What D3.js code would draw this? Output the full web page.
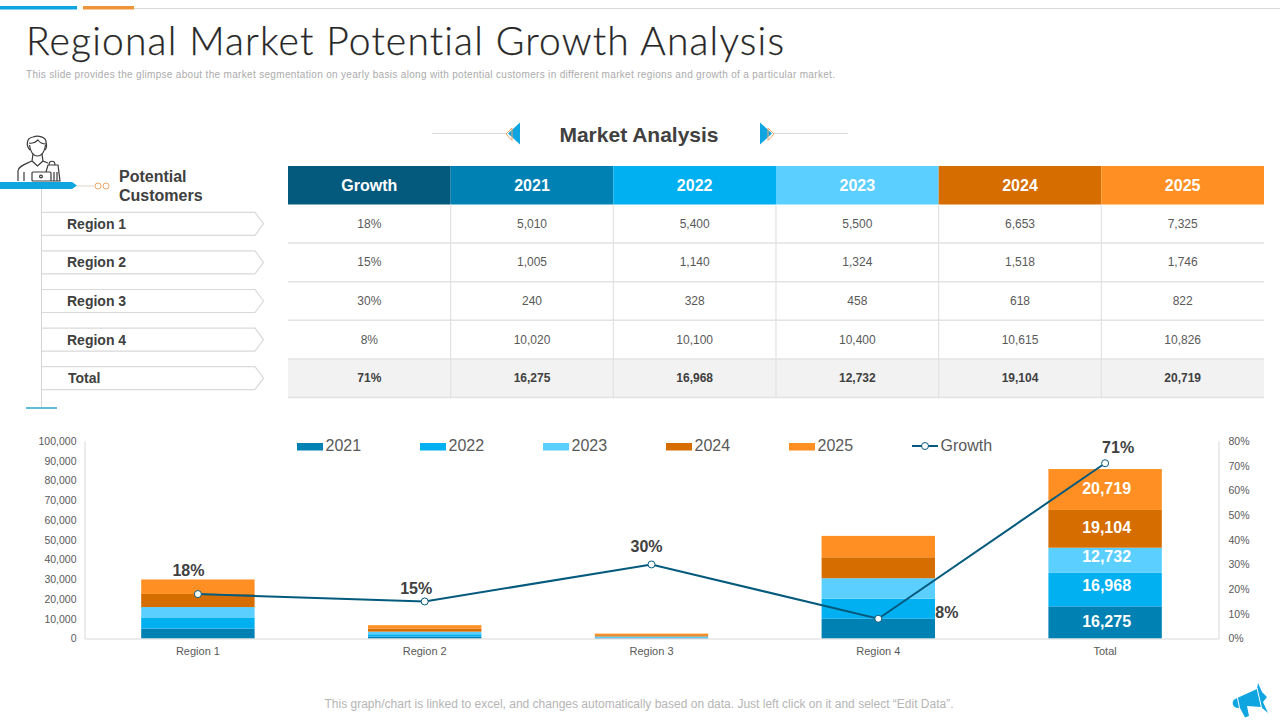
<!DOCTYPE html>
<html lang="en">
<head>
    <meta charset="UTF-8">
    <title>Regional Market Potential Growth Analysis</title>
    <script src="https://d3js.org/d3.v7.min.js"></script>
    <style>
      html, body { margin: 0; padding: 0; background: #fff; }
      svg { display: block; font-family: "Liberation Sans", Arial, sans-serif; }
      .axis text { font-size: 10.5px; fill: #595959; font-family: "Liberation Sans", Arial, sans-serif; }
      .axis path { stroke: #d9d9d9; }
    </style>
</head>
<body>
    <script>
        // chart values
        const regions = ["Region 1", "Region 2", "Region 3", "Region 4", "Total"];
        const years = ["2021", "2022", "2023", "2024", "2025"];
        const values2021 = [5010, 1005, 240, 10020, 16275];
        const values2022 = [5400, 1140, 328, 10100, 16968];
        const values2023 = [5500, 1324, 458, 10400, 12732];
        const values2024 = [6653, 1518, 618, 10615, 19104];
        const values2025 = [7325, 1746, 822, 10826, 20719];
        const growth = [18, 15, 30, 8, 71];
        const leftTicks = [0, 10000, 20000, 30000, 40000, 50000, 60000, 70000, 80000, 90000, 100000];
        const rightTicks = [0, 10, 20, 30, 40, 50, 60, 70, 80];
        const yearColors = ["#0081b4", "#00b0f0", "#5bcfff", "#d66d00", "#ff8f22"];
        const growthColor = "#045a7d";
        const headerColors = [growthColor].concat(yearColors);

        const yearSeries = [values2021, values2022, values2023, values2024, values2025];
        const fmt = d3.format(",");
        const textColor = "#404040";

        const svg = d3.select("body").append("svg")
            .attr("width", 1280)
            .attr("height", 720);

        // top rules
        svg.append("rect").attr("x", 0).attr("y", 6).attr("width", 77).attr("height", 3.5).attr("fill", "#0ea5e0");
        svg.append("rect").attr("x", 83).attr("y", 6).attr("width", 51).attr("height", 3.5).attr("fill", "#f0943a");
        svg.append("line").attr("x1", 134).attr("x2", 1280).attr("y1", 8.5).attr("y2", 8.5).attr("stroke", "#d9d9d9");

        // heading
        svg.append("text").attr("x", 26).attr("y", 55)
            .attr("font-family", "Lato").attr("font-weight", 300)
            .attr("font-size", 39).attr("fill", "#262626")
            .attr("stroke", "#262626").attr("stroke-width", 0.25)
            .style("font-variant-ligatures", "none")
            .attr("textLength", 758).attr("lengthAdjust", "spacing")
            .text("Regional Market Potential Growth Analysis");
        svg.append("text").attr("x", 26).attr("y", 77.5)
            .attr("font-size", 10).attr("fill", "#ababab")
            .attr("textLength", 809).attr("lengthAdjust", "spacing")
            .text("This slide provides the glimpse about the market segmentation on yearly basis along with potential customers in different market regions and growth of a particular market.");

        // Market Analysis title and its arrows
        svg.append("text").attr("x", 639).attr("y", 142)
            .attr("text-anchor", "middle").attr("font-size", 21).attr("font-weight", "bold")
            .attr("fill", textColor).text("Market Analysis");
        [-1, 1].forEach(function(dir) {
            const g = svg.append("g").attr("transform", `translate(640,0) scale(${dir},1)`);
            g.append("line").attr("x1", 134).attr("x2", 208).attr("y1", 133.5).attr("y2", 133.5).attr("stroke", "#d9d9d9");
            g.append("path").attr("d", "M120,122.5 L132,133.5 L120,144.5 Z").attr("fill", "#0ea5e0");
            g.append("path").attr("d", "M128,128 L134,134 L128,140.5 Z").attr("fill", "none").attr("stroke", "#eda56a");
        });

        // table
        const colNames = ["Growth"].concat(years);
        const tableX = d3.scaleBand().domain(d3.range(6)).range([288, 1264]);
        const tableY = d3.scaleBand().domain(d3.range(5)).range([204.5, 397.5]);

        svg.append("g").selectAll("g")
            .data(colNames)
            .join("g")
            .each(function(d, i) {
                const g = d3.select(this);
                g.append("rect").attr("x", tableX(i)).attr("y", 166)
                    .attr("width", tableX.bandwidth()).attr("height", 38.5)
                    .attr("fill", headerColors[i]);
                g.append("text").attr("x", tableX(i) + tableX.bandwidth() / 2).attr("y", 190.5)
                    .attr("text-anchor", "middle").attr("font-size", 16).attr("font-weight", "bold")
                    .attr("fill", "#fff").text(d);
            });

        svg.append("rect").attr("x", 288).attr("y", tableY(4))
            .attr("width", 976).attr("height", tableY.bandwidth()).attr("fill", "#f2f2f2");

        const rows = regions.map((r, i) => [growth[i] + "%"].concat(yearSeries.map(s => fmt(s[i]))));
        const rowG = svg.append("g").selectAll("g")
            .data(rows)
            .join("g");
        rowG.append("line")
            .attr("x1", 288).attr("x2", 1264)
            .attr("y1", (d, i) => tableY(i) + tableY.bandwidth())
            .attr("y2", (d, i) => tableY(i) + tableY.bandwidth())
            .attr("stroke", "#e2e2e2").attr("stroke-width", 1.5);
        rowG.each(function(row, i) {
            d3.select(this).selectAll("text")
                .data(row)
                .join("text")
                .attr("x", (d, j) => tableX(j) + tableX.bandwidth() / 2)
                .attr("y", tableY(i) + tableY.bandwidth() / 2 + 4)
                .attr("text-anchor", "middle")
                .attr("font-size", 12)
                .attr("font-weight", i === 4 ? "bold" : "normal")
                .attr("fill", i === 4 ? textColor : "#595959")
                .text(d => d);
        });
        svg.append("g").selectAll("line")
            .data(d3.range(1, 6))
            .join("line")
            .attr("x1", d => tableX(d)).attr("x2", d => tableX(d))
            .attr("y1", 204.5).attr("y2", 397.5)
            .attr("stroke", "#e2e2e2").attr("stroke-width", 1.2);

        // left column: region tags
        svg.append("line").attr("x1", 41.5).attr("x2", 41.5).attr("y1", 188).attr("y2", 407).attr("stroke", "#d4d4d4");
        svg.append("line").attr("x1", 77).attr("x2", 94).attr("y1", 186).attr("y2", 186).attr("stroke", "#e0d2c4");
        svg.append("g").selectAll("circle")
            .data([98, 106])
            .join("circle")
            .attr("cx", d => d).attr("cy", 186).attr("r", 3)
            .attr("fill", "#fff").attr("stroke", "#eba868");
        svg.append("text").attr("font-size", 16).attr("font-weight", "bold").attr("fill", textColor)
            .selectAll("tspan")
            .data(["Potential", "Customers"])
            .join("tspan")
            .attr("x", 119).attr("y", (d, i) => 182 + i * 19)
            .text(d => d);

        const tag = svg.append("g").selectAll("g").data(regions).join("g")
            .attr("transform", (d, i) => `translate(0,${tableY(i) + tableY.bandwidth() / 2})`);
        tag.append("path")
            .attr("d", "M41,-11.5 H255 L263.5,0 L255,11.5 H41")
            .attr("fill", "none").attr("stroke", "#d9d9d9").attr("stroke-width", 1.2);
        tag.append("text")
            .attr("x", (d, i) => i === 4 ? 68 : 67).attr("y", 5)
            .attr("font-size", 14).attr("font-weight", "bold").attr("fill", textColor)
            .text(d => d);
        svg.append("line").attr("x1", 26).attr("x2", 57).attr("y1", 408).attr("y2", 408)
            .attr("stroke", "#2ea6c4").attr("stroke-width", 1.5);

        // person icon
        const person = svg.append("g").attr("fill", "none").attr("stroke", "#3a3a3a").attr("stroke-width", 1.2);
        person.append("path").attr("d", "M30,150 C26,146 26,138 33,137 C38,135 46,137 46,142 C47,146 46,149 45,150");
        person.append("path").attr("d", "M29,143 C33,144 36,142 38,140 C40,143 43,144 46,144");
        person.append("path").attr("d", "M29.5,145 C30,151 33,156 37.5,156 C42,156 45,151 45.5,145");
        person.append("path").attr("d", "M18,181 V171 C18,166 26,164 32,161 L33,154 M42,154 L43,161 L48,163");
        person.append("path").attr("d", "M32,161 L37.5,166 L43,161");
        person.append("path").attr("d", "M24,181 V172");
        person.append("rect").attr("x", 32).attr("y", 172).attr("width", 19).attr("height", 9).attr("rx", 1);
        person.append("circle").attr("cx", 41).attr("cy", 176.5).attr("r", 1.4);
        person.append("path").attr("d", "M46,172 L48,165 H58 L60,181 H51 M54,172 V181 M57,172 V181 M49,165 C49,160 55,160 55,165");
        svg.append("path").attr("d", "M0,182 H72 L77,185.5 L72,189 H0 Z").attr("fill", "#0ea5e0");

        // combo chart
        const x = d3.scaleBand().domain(regions).range([84.5, 1218.5]).paddingInner(0.5).paddingOuter(0.25);
        const y = d3.scaleLinear().domain([0, 100000]).range([638.5, 441]);
        const yRight = d3.scaleLinear().domain([0, 80]).range([638.5, 441]);

        const stackData = regions.map((r, i) => {
            const row = { region: r };
            years.forEach((yr, k) => { row[yr] = yearSeries[k][i]; });
            return row;
        });
        const stacked = d3.stack().keys(years)(stackData);

        const layer = svg.append("g").selectAll("g")
            .data(stacked)
            .join("g")
            .attr("fill", (d, i) => yearColors[i]);
        layer.selectAll("rect")
            .data(d => d)
            .join("rect")
            .attr("x", d => x(d.data.region))
            .attr("y", d => y(d[1]))
            .attr("width", x.bandwidth())
            .attr("height", d => y(d[0]) - y(d[1]));

        // value labels only on the Total bar, each nudged as on the slide
        const totalNudge = [4.5, 1, 2, 4.5, 4];
        layer.append("text")
            .datum(d => d[4])
            .attr("x", d => x(d.data.region) + x.bandwidth() / 2 + 1.5)
            .attr("y", (d, i) => (y(d[0]) + y(d[1])) / 2 + totalNudge[i])
            .attr("text-anchor", "middle")
            .attr("font-size", 16).attr("font-weight", "bold").attr("fill", "#fff")
            .text(d => fmt(d[1] - d[0]));

        svg.append("g").attr("class", "axis")
            .attr("transform", "translate(84.5,0)")
            .call(d3.axisLeft(y).tickValues(leftTicks).tickSize(0).tickPadding(8).tickFormat(fmt));
        svg.append("g").attr("class", "axis")
            .attr("transform", "translate(1218.5,0)")
            .call(d3.axisRight(yRight).tickValues(rightTicks).tickSize(0).tickPadding(10).tickFormat(d => d + "%"));
        svg.append("g").attr("class", "axis")
            .attr("transform", "translate(0,638.5)")
            .call(d3.axisBottom(x).tickSize(0).tickPadding(9))
            .selectAll("text").style("font-size", "11px");

        // growth line
        const cx = r => x(r) + x.bandwidth() / 2;
        const line = d3.line().x((d, i) => cx(regions[i])).y(d => yRight(d));
        svg.append("path").datum(growth)
            .attr("d", line)
            .attr("fill", "none").attr("stroke", growthColor).attr("stroke-width", 2);
        svg.append("g").selectAll("circle")
            .data(growth)
            .join("circle")
            .attr("cx", (d, i) => cx(regions[i]))
            .attr("cy", d => yRight(d))
            .attr("r", 3.5)
            .attr("fill", "#fff").attr("stroke", growthColor).attr("stroke-width", 1);

        // growth labels sit beside their points, nudged as on the slide
        const labelNudge = [[-9.5, -18], [-8.5, -7], [-5, -12], [68.5, -1], [13, -10]];
        svg.append("g").selectAll("text")
            .data(growth)
            .join("text")
            .attr("x", (d, i) => cx(regions[i]) + labelNudge[i][0])
            .attr("y", (d, i) => yRight(d) + labelNudge[i][1])
            .attr("text-anchor", "middle")
            .attr("font-size", 16).attr("font-weight", "bold").attr("fill", textColor)
            .text(d => d + "%");

        // legend
        const legendX = d3.scalePoint().domain(years.concat("Growth")).range([297, 912]);
        const legend = svg.append("g").selectAll("g")
            .data(years.concat("Growth"))
            .join("g")
            .attr("transform", d => `translate(${legendX(d)},446)`);
        legend.filter(d => d !== "Growth").append("rect")
            .attr("y", -3).attr("width", 26).attr("height", 7.5)
            .attr("fill", (d, i) => yearColors[i]);
        legend.filter(d => d === "Growth").append("line")
            .attr("x2", 26).attr("stroke", growthColor).attr("stroke-width", 2);
        legend.filter(d => d === "Growth").append("circle")
            .attr("cx", 13).attr("r", 3.5).attr("fill", "#fff").attr("stroke", growthColor);
        legend.append("text")
            .attr("x", 28.5).attr("y", 4.5)
            .attr("font-size", 16).attr("fill", "#595959")
            .text(d => d);

        // footer and megaphone
        svg.append("text").attr("x", 639).attr("y", 707.5)
            .attr("text-anchor", "middle").attr("font-size", 12).attr("fill", "#b5b5b5")
            .text("This graph/chart is linked to excel, and changes automatically based on data. Just left click on it and select \u201CEdit Data\u201D.");
        const horn = svg.append("g");
        horn.append("path").attr("d", "M1235,699 L1257,689 L1258,683 L1262,692 L1267,697 L1263,702 L1268,713 L1261,707 L1247,706 L1249,716 L1245,717.5 L1240,708 C1232,709 1231,701 1235,699 Z").attr("fill", "#0ea5e0");
        horn.append("path").attr("d", "M1237.5,698 L1239.5,708 M1257,688 L1262,710").attr("stroke", "#fff").attr("stroke-width", 1).attr("fill", "none");
    </script>
</body>
</html>
